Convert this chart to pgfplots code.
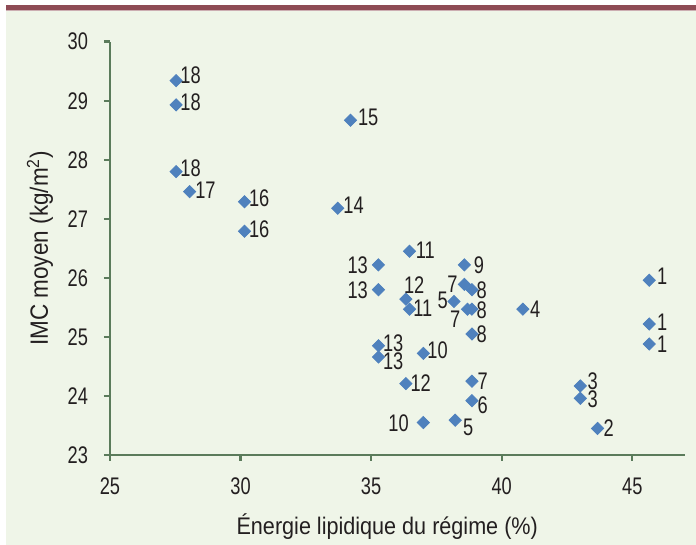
\documentclass[border=0pt]{standalone}
\usepackage{pgfplots}
\pgfplotsset{compat=1.18}
\usepackage{pgfplotstable}
\usepackage{fontspec}
\setmainfont{Liberation Sans}[FakeStretch=0.9]
\newfontfamily\numfont{Liberation Sans}[FakeStretch=0.76]

\definecolor{bg}{HTML}{EFF5E8}
\definecolor{band}{HTML}{8E4B55}
\definecolor{axc}{HTML}{5B7B5B}
\definecolor{mk}{HTML}{4F81BD}
\definecolor{lab}{HTML}{231F20}

% x = energie lipidique (%), y = IMC, lab = etiquette, dx/dy = decalage de l'etiquette (pt)
\pgfplotstableread{
x     y     lab  dx     dy
27.53 29.34 18   7.25   2.85
27.53 28.93 18   7.25   1.5
27.53 27.80 18   7.25   1.85
28.05 27.46 17   7.9    0.85
30.15 27.29 16   7.35   1.85
30.15 26.79 16   7.35   1.0
34.21 28.67 15   8.85   1.25
33.72 27.18 14   7.9    1.4
36.47 26.45 11   7.85   0.5
35.28 26.22 13   -10.4  -0.25
38.57 26.22 9    7.35   0
35.28 25.80 13   -10.4  -0.15
38.57 25.89 7    -5.9   0
38.86 25.80 8    4.9    -0.4
36.33 25.64 12   4.15   7.0
36.47 25.47 11   6.6    0.3
38.17 25.60 5    -5.6   0.6
38.69 25.47 7    -6.15  -4.85
38.86 25.47 8    4.9    -0.6
40.81 25.47 4    6.15   -0.1
38.86 25.05 8    4.9    0
35.28 24.85 13   7.35   1.5
35.28 24.66 13   7.35   -2.15
37.00 24.72 10   7.1    1.4
36.33 24.21 12   7.4    0.4
38.86 24.25 7    5.4    -0.25
38.86 23.92 6    5.4    -2.4
37.00 23.55 10   -12.4  -0.15
38.22 23.59 5    6.5    -3.5
45.65 25.96 1    6.5    1.75
45.65 25.22 1    6.5    0.75
45.65 24.88 1    6.5    -0.25
43.01 24.17 3    6.25   2.25
43.01 23.96 3    6.25   -0.6
43.67 23.45 2    5.6    0.4
}\imc

\begin{document}
\begin{tikzpicture}
\fill[white] (-55pt,-45pt) rectangle (293pt,227.5pt);
\fill[bg] (-52pt,-45pt) rectangle (293pt,222pt);
\fill[band] (-52pt,222.5pt) rectangle (293pt,225pt);
\fill[band!45!white] (-52pt,222pt) rectangle (293pt,222.5pt);
\begin{axis}[
  scale only axis,
  width=287.25pt, height=206.65pt,
  xmin=25, xmax=47, ymin=23, ymax=30,
  axis lines=left,
  axis line style={-, draw=axc, line width=1.2pt},
  tick style={draw=axc, line width=1.2pt},
  tick align=outside,
  major tick length=3pt,
  xtick={25,30,35,40,45},
  ytick={23,24,...,30},
  /pgf/number format/assume math mode=true,
  xticklabel style={font=\numfont\fontsize{12}{14}\selectfont, text=lab, yshift=-5pt},
  yticklabel style={font=\numfont\fontsize{12}{14}\selectfont, text=lab, xshift=-4.5pt},
  xlabel={Énergie lipidique du régime (\%)},
  ylabel={IMC moyen (kg/m\textsuperscript{2})},
  every axis x label/.style={at={(axis description cs:0.4826,-0.1742)}, anchor=center,
    font=\fontsize{12}{14}\selectfont, text=lab},
  every axis y label/.style={at={(axis description cs:-0.1218,0.5)}, anchor=center, rotate=90,
    font=\fontsize{12.5}{15}\selectfont, text=lab},
  clip=false,
]
\addplot[only marks, mark=square*, mark size=2.15pt,
  mark options={rotate=45, fill=mk, draw=mk, line width=0.4pt},
  point meta=explicit symbolic,
  visualization depends on={\thisrow{dx}\as\dx},
  visualization depends on={\thisrow{dy}\as\dy},
  nodes near coords,
  nodes near coords style={anchor=center, xshift=\dx pt, yshift=\dy pt, inner sep=0pt,
    font=\numfont\fontsize{12}{14}\selectfont, text=lab}]
  table[x=x, y=y, meta=lab] {\imc};
\end{axis}
\pgfresetboundingbox
\path[use as bounding box] (-55pt,-45pt) rectangle (293pt,227.5pt);
\end{tikzpicture}
\end{document}
